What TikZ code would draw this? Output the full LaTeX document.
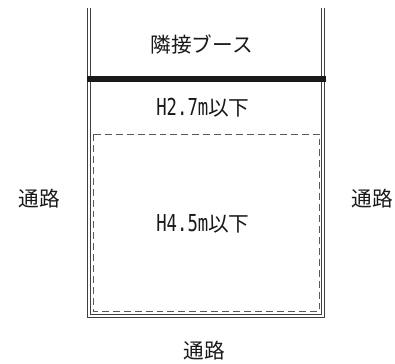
\documentclass[tikz,border=0pt]{standalone}
\usepackage{fontspec}
\setmainfont{Noto Sans CJK JP}
\newfontfamily\narrowlatin[FakeStretch=0.74]{DejaVu Sans Mono}
\newcommand{\lat}[1]{{\narrowlatin\fontsize{17.5pt}{18pt}\selectfont #1}}
\tikzset{
  wall/.style={draw=black!75,line width=1pt},
  heavy/.style={draw=black!90,line width=4.5pt},
  limit/.style={draw=black!65,line width=0.7pt,dash pattern=on 5.2pt off 3pt},
  lbl/.style={inner sep=0pt,font=\fontsize{15.5pt}{17pt}\selectfont,text=black!90}
}
\begin{document}
\begin{tikzpicture}[x=0.75pt,y=-0.75pt]
\useasboundingbox (0,0) rectangle (395,363);
\draw[wall] (87.5,8) -- (87.5,317.5) -- (324.8,317.5) -- (324.8,8);
\draw[wall] (90.5,8) -- (90.5,314.5) -- (321.8,314.5) -- (321.8,8);
\coordinate (ba) at (87,79.5);
\coordinate (bb) at (325.5,79.5);
\draw[heavy] (ba) -- (bb);
\draw[limit] (93,134) rectangle (319,311);
\node[lbl] (booth) at (201.5,44) {隣接ブース};
\node[lbl] (h27) at (203,108) {\lat{H2.7m}以下};
\node[lbl] (h45) at (203,224) {\lat{H4.5m}以下};
\node[lbl] (pl) at (39,199) {通路};
\node[lbl] (pr) at (372,199) {通路};
\node[lbl] (pb) at (204,351) {通路};
\end{tikzpicture}
\end{document}
